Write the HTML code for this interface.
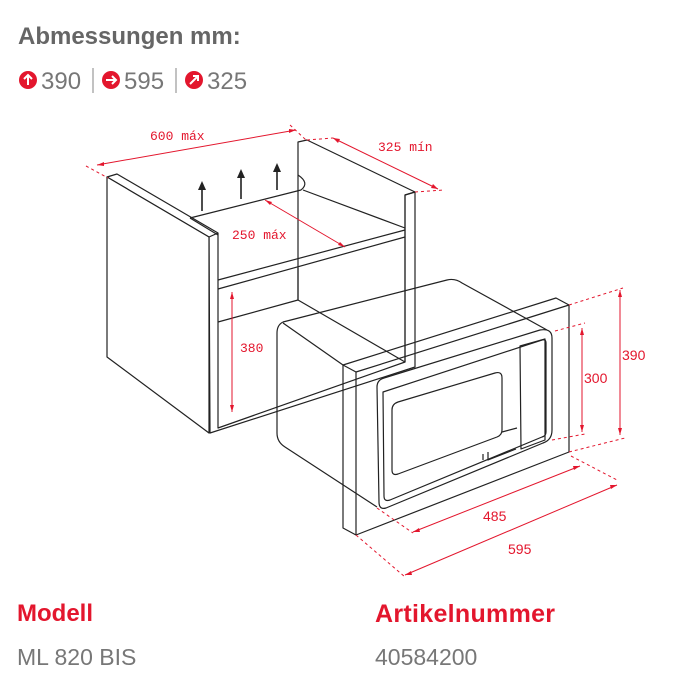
<!DOCTYPE html>
<html><head><meta charset="utf-8"><style>
html,body{margin:0;padding:0;background:#fff;width:697px;height:681px;overflow:hidden}
.t{position:absolute;font-family:"Liberation Sans",sans-serif}
</style></head><body>
<div class="t" style="left:18px;top:23px;font-size:24px;font-weight:bold;color:#666">Abmessungen mm:</div>
<svg width="697" height="681" style="position:absolute;left:0;top:0">
<g font-family="Liberation Sans" fill="#777" font-size="24">
<circle cx="28" cy="80" r="9" fill="#e3162d"/><path d="M28 85V75M24 79l4-4 4 4" stroke="#fff" stroke-width="2" fill="none"/>
<text x="41" y="89">390</text><line x1="93" y1="68" x2="93" y2="93" stroke="#999" stroke-width="1.2"/>
<circle cx="111" cy="80" r="9" fill="#e3162d"/><path d="M106 80h10M112 76l4 4-4 4" stroke="#fff" stroke-width="2" fill="none"/>
<text x="124" y="89">595</text><line x1="176" y1="68" x2="176" y2="93" stroke="#999" stroke-width="1.2"/>
<circle cx="194" cy="80" r="9" fill="#e3162d"/><path d="M190 84l8-8M193 76h5v5" stroke="#fff" stroke-width="2" fill="none"/>
<text x="207" y="89">325</text>
</g>
<g stroke="#222" stroke-width="1.2" fill="none" stroke-linejoin="round">
<polygon points="107,177 117,174 218,233 218,428 405,362 405,195 415,192 415,367 210,433 209,237" fill="#fff"/>
<polygon points="107,177 209,237 209,433 107,357" fill="#fff"/>
<line x1="209" y1="237" x2="218" y2="233"/>
<polygon points="298,142 307,140 415,192 405,195 405,362 298,300 298,190" />
<path d="M298 175 q12 8 3 15"/>
<path d="M190 218 L301 190"/>
<path d="M218 280 L405 230"/>
<path d="M218 289 L405 237"/>
<path d="M190 218 L218 235"/>
<path d="M303 190 L405 228"/>
<path d="M218 322 L298 300"/>
<path d="M298 268 L298 300"/>
<path d="M283 322 L447 280 Q455 278 462 283 L547 330"/>
<path d="M283 322 Q277 325 277 333 L277 433 Q277 442 285 447 L377 507"/>
<path d="M283 323 L343 365"/>
<polygon points="343,365 556,298 569,305 569,452 356,535 343,528" fill="none"/>
<path d="M356 372 L569 305"/>
<path d="M356 372 L356 535"/>
<path d="M343 365 L356 372"/>
<path d="M377 387 Q377 380 384 378 L540 330 Q552 328 552 338 L552 430 Q552 440 543 443 L386 508 Q379 510 379 502 Z"/>
<path d="M383 392 L542 340 Q546 339 546 343 L546 432 Q546 436 542 437 L390 500 Q384 502 384 496 Z"/>
<path d="M392 410 Q392 404 398 402 L495 373 Q502 371 502 378 L502 430 Q502 435 497 437 L398 474 Q392 476 392 470 Z"/>
<path d="M483 454 L483 460 M488 452 L488 460 L516 449 M502 432 L517 428"/>
<path d="M520 346 L545 339 L545 440 L521 449 Z"/>
</g>
<g stroke="#222" stroke-width="1.6">
<path d="M202 211 V188"/><path d="M241 199 V176"/><path d="M277 190 V170"/>
</g>
<g fill="#222"><path d="M198 190l4-9 4 9z"/><path d="M237 178l4-9 4 9z"/><path d="M273 172l4-9 4 9z"/></g>
<g stroke="#e3162d" stroke-width="1" fill="none">
<path d="M97 165 L296 130"/><path d="M333 138 L438 189"/><path d="M265 200 L345 247"/>
<path d="M232 292 V412"/><path d="M582 328 V432"/><path d="M620 290 V435"/>
<path d="M413 532 L580 466"/><path d="M405 575 L617 485"/>
<g stroke-dasharray="3,3">
<path d="M86 166 L108 178"/><path d="M290 125 L306 140"/><path d="M307 140 L333 138"/><path d="M415 192 L444 190"/>
<path d="M555 331 L585 323"/><path d="M552 440 L585 434"/><path d="M569 305 L623 288"/><path d="M569 452 L625 438"/>
<path d="M377 508 L413 533"/><path d="M571 456 L617 480"/><path d="M356 535 L405 577"/>
</g>
</g>
<g fill="#e3162d">
<path d="M97 165l7-3 0 4z"/><path d="M296 130l-7 3 0-4z"/>
<path d="M333 138l7 1-2 4z"/><path d="M438 189l-7-1 2-4z"/>
<path d="M265 200l7 2-2 3z"/><path d="M345 247l-7-2 2-3z"/>
<path d="M232 292l-2 7h4z"/><path d="M232 412l-2-7h4z"/>
<path d="M582 328l-2 7h4z"/><path d="M582 432l-2-7h4z"/>
<path d="M620 290l-2 7h4z"/><path d="M620 435l-2-7h4z"/>
<path d="M413 532l6-4 1 4z"/><path d="M580 466l-6 4-1-4z"/>
<path d="M405 575l6-4 1 4z"/><path d="M617 485l-6 4-1-4z"/>
</g>
<g fill="#e3162d" font-family="Liberation Mono" font-size="13">
<text x="150" y="140">600 máx</text><text x="378" y="151">325 mín</text>
<text x="232" y="239">250 máx</text><text x="240" y="352">380</text>
</g>
<g fill="#e3162d" font-family="Liberation Sans" font-size="14">
<text x="584" y="383">300</text><text x="622" y="360">390</text>
<text x="483" y="521">485</text><text x="508" y="554">595</text>
</g>
</svg>
<div class="t" style="left:17px;top:600px;font-size:24px;font-weight:bold;color:#e3162d">Modell</div>
<div class="t" style="left:17px;top:644px;font-size:23px;color:#777">ML 820 BIS</div>
<div class="t" style="left:375px;top:600px;font-size:25px;font-weight:bold;color:#e3162d;letter-spacing:0.3px">Artikelnummer</div>
<div class="t" style="left:375px;top:644px;font-size:23px;color:#777">40584200</div>
</body></html>
